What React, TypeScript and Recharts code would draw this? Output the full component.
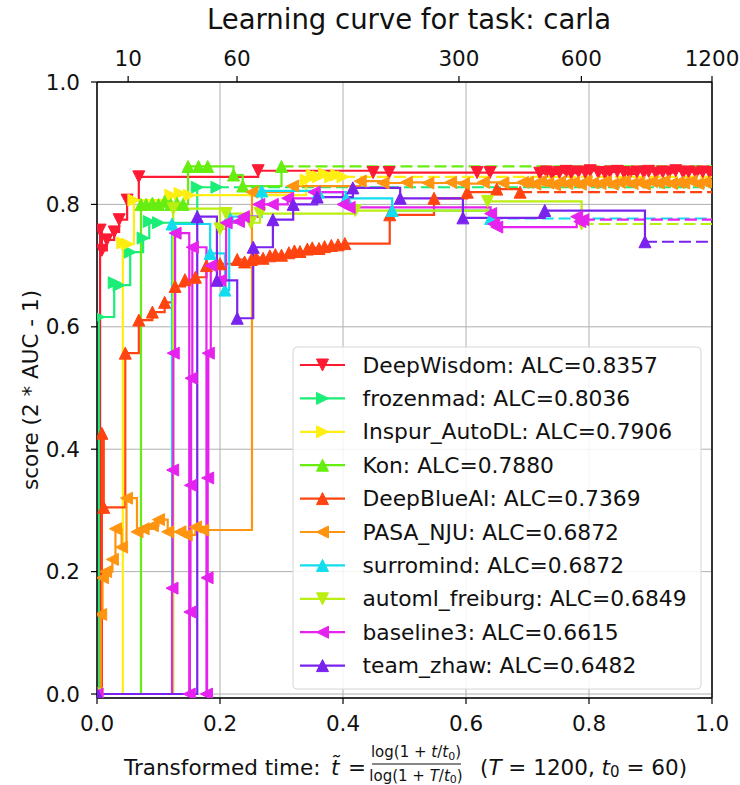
import React from 'react';
import { LineChart, Line, XAxis, YAxis, CartesianGrid, ReferenceLine, Customized } from 'recharts';

const FONT = '"DejaVu Sans", sans-serif';

// Time budget T and time constant t0 of the transformed-time axis
const T_TOTAL = 1200;
const T0 = 60;
const topTickSeconds = [10, 60, 300, 600, 1200];
const bottomTicks = [0, 0.2, 0.4, 0.6, 0.8, 1.0];
const scoreTicks = [0, 0.2, 0.4, 0.6, 0.8, 1.0];

const teamNames = [
  'DeepWisdom', 'frozenmad', 'Inspur_AutoDL', 'Kon', 'DeepBlueAI',
  'PASA_NJU', 'surromind', 'automl_freiburg', 'baseline3', 'team_zhaw',
];
const alcScores = [0.8357, 0.8036, 0.7906, 0.788, 0.7369, 0.6872, 0.6872, 0.6849, 0.6615, 0.6482];

// Learning curves: transformed time and score (2 * AUC - 1) of each submission
const deepWisdomT = [0, 0.005, 0.008, 0.016, 0.028, 0.036, 0.049, 0.068, 0.262, 0.449, 0.475, 0.618, 0.639,
  0.72, 0.731, 0.74, 0.752, 0.763, 0.771, 0.783, 0.794, 0.802, 0.815, 0.826, 0.834, 0.846, 0.857, 0.866,
  0.878, 0.889, 0.897, 0.909, 0.92, 0.93, 0.941, 0.953, 0.962, 0.974, 0.985, 0.996];
const deepWisdomScore = [0, 0.758, 0.725, 0.742, 0.755, 0.775, 0.807, 0.845, 0.855, 0.852, 0.852, 0.852, 0.852,
  0.851, 0.853, 0.85, 0.852, 0.854, 0.851, 0.853, 0.852, 0.855, 0.852, 0.851, 0.853, 0.854, 0.852, 0.85,
  0.853, 0.852, 0.854, 0.851, 0.853, 0.852, 0.855, 0.852, 0.853, 0.851, 0.853, 0.852];

const frozenmadT = [0, 0.003, 0.028, 0.036, 0.054, 0.075, 0.085, 0.1, 0.163, 0.195];
const frozenmadScore = [0, 0.616, 0.672, 0.668, 0.722, 0.745, 0.772, 0.77, 0.828, 0.828];

const inspurT = [0, 0.042, 0.05, 0.06, 0.12, 0.135, 0.15, 0.34, 0.35, 0.36, 0.37, 0.38, 0.39, 0.4];
const inspurScore = [0, 0.737, 0.735, 0.807, 0.815, 0.818, 0.815, 0.84, 0.848, 0.845, 0.85, 0.845, 0.848, 0.845];

const konT = [0, 0.0715, 0.08, 0.09, 0.1, 0.11, 0.12, 0.13, 0.14, 0.148, 0.165, 0.18, 0.222, 0.237, 0.3];
const konScore = [0, 0.8, 0.8, 0.802, 0.8, 0.805, 0.8, 0.802, 0.8, 0.862, 0.862, 0.862, 0.848, 0.83, 0.862];

const deepBlueT = [0, 0.008, 0.011, 0.046, 0.068, 0.09, 0.11, 0.127, 0.143, 0.16, 0.178, 0.2, 0.228, 0.24,
  0.251, 0.259, 0.27, 0.281, 0.29, 0.3, 0.312, 0.321, 0.33, 0.342, 0.35, 0.361, 0.37, 0.381, 0.392, 0.403,
  0.476, 0.548, 0.602, 0.65, 0.688];
const deepBlueScore = [0, 0.426, 0.305, 0.557, 0.611, 0.624, 0.64, 0.666, 0.677, 0.681, 0.7, 0.703, 0.71, 0.706,
  0.71, 0.713, 0.712, 0.716, 0.718, 0.717, 0.721, 0.724, 0.723, 0.727, 0.729, 0.728, 0.731, 0.733, 0.734, 0.736,
  0.783, 0.81, 0.82, 0.825, 0.82];

const pasaT = [0, 0.006, 0.009, 0.014, 0.025, 0.03, 0.04, 0.048, 0.065, 0.075, 0.09, 0.1, 0.115, 0.135, 0.145,
  0.16, 0.172, 0.252, 0.318, 0.428, 0.465, 0.503, 0.538, 0.575, 0.596, 0.628, 0.66, 0.692,
  0.7, 0.712, 0.721, 0.733, 0.744, 0.752, 0.764, 0.775, 0.786, 0.795, 0.806, 0.818, 0.827, 0.838, 0.849,
  0.858, 0.87, 0.881, 0.89, 0.902, 0.913, 0.922, 0.934, 0.945, 0.954, 0.966, 0.977, 0.988, 0.997];
const pasaScore = [0, 0.13, 0.19, 0.2, 0.22, 0.27, 0.24, 0.32, 0.265, 0.27, 0.275, 0.285, 0.265, 0.265, 0.26,
  0.273, 0.268, 0.82, 0.83, 0.838, 0.835, 0.836, 0.835, 0.836, 0.834, 0.836, 0.835, 0.836,
  0.836, 0.833, 0.838, 0.835, 0.832, 0.837, 0.834, 0.836, 0.833, 0.838, 0.835, 0.834, 0.837, 0.833, 0.836,
  0.838, 0.834, 0.836, 0.833, 0.837, 0.835, 0.838, 0.834, 0.836, 0.835, 0.838, 0.834, 0.836, 0.835];

const surromindT = [0, 0.122, 0.184, 0.208, 0.215, 0.268, 0.36, 0.405, 0.48, 0.64];
const surromindScore = [0, 0.768, 0.72, 0.66, 0.78, 0.822, 0.82, 0.81, 0.79, 0.777];

const freiburgT = [0, 0.124, 0.2, 0.21, 0.25, 0.265, 0.42, 0.635, 0.788];
const freiburgScore = [0, 0.793, 0.76, 0.785, 0.77, 0.785, 0.79, 0.805, 0.768];

const baseline3T = [0, 0.122, 0.123, 0.124, 0.127, 0.15, 0.151, 0.152, 0.153, 0.155, 0.178, 0.179, 0.18, 0.181,
  0.185, 0.2, 0.21, 0.23, 0.238, 0.263, 0.285, 0.31, 0.353, 0.4, 0.41, 0.64, 0.645, 0.65, 0.78, 0.785, 0.79];
const baseline3Score = [0, 0.173, 0.366, 0.557, 0.753, 0, 0.134, 0.341, 0.516, 0.73, 0, 0.19, 0.353, 0.557,
  0.7, 0.676, 0.77, 0.772, 0.78, 0.8, 0.8, 0.81, 0.82, 0.8, 0.795, 0.785, 0.768, 0.763, 0.78, 0.772, 0.775];

const zhawT = [0, 0.163, 0.195, 0.228, 0.254, 0.286, 0.319, 0.358, 0.416, 0.493, 0.595, 0.728, 0.891];
const zhawScore = [0, 0.78, 0.676, 0.614, 0.73, 0.775, 0.8, 0.812, 0.827, 0.81, 0.778, 0.79, 0.739];

const curveTimes = [deepWisdomT, frozenmadT, inspurT, konT, deepBlueT, pasaT, surromindT, freiburgT, baseline3T, zhawT];
const curveScores = [deepWisdomScore, frozenmadScore, inspurScore, konScore, deepBlueScore, pasaScore,
  surromindScore, freiburgScore, baseline3Score, zhawScore];

// Per-team drawing style
const teamColors = ['#ff1a33', '#1aee77', '#ffee11', '#66ee11', '#ff4411', '#ff9411', '#11ddee', '#bbee11', '#e622ee', '#7a22ee'];
const teamMarkers = ['v', '>', '>', '^', '^', '<', '^', 'v', '<', '^'];

const transformTime = (t: number) => Math.log(1 + t / T0) / Math.log(1 + T_TOTAL / T0);
const topTickPositions = topTickSeconds.map(transformTime);

type Pt = { x: number; y: number };
const curves: Pt[][] = curveTimes.map((ts, i) => ts.map((x, j) => ({ x, y: curveScores[i][j] })));
// Each curve is continued with a dashed line at its last score up to the end of the budget
const tails: Pt[][] = curves.map((c) => {
  const last = c[c.length - 1];
  return [last, { x: 1, y: last.y }];
});

const MR = 6;
function trianglePoints(kind: string, cx: number, cy: number, r: number) {
  switch (kind) {
    case 'v': return `${cx - r},${cy - r} ${cx + r},${cy - r} ${cx},${cy + r}`;
    case '^': return `${cx - r},${cy + r} ${cx + r},${cy + r} ${cx},${cy - r}`;
    case '>': return `${cx - r},${cy - r} ${cx - r},${cy + r} ${cx + r},${cy}`;
    default: return `${cx + r},${cy - r} ${cx + r},${cy + r} ${cx - r},${cy}`;
  }
}

const makeMarker = (kind: string, color: string) => (props: any) => {
  const { cx, cy, index } = props;
  if (cx == null || cy == null || Number.isNaN(cx) || Number.isNaN(cy)) return <g key={`m-${index}`} />;
  return <polygon key={`m-${index}`} points={trianglePoints(kind, cx, cy, MR)} fill={color} stroke={color} strokeWidth={1} />;
};

const Title = () => (
  <text x={409} y={19} textAnchor="middle" dominantBaseline="central" fontFamily={FONT} fontSize={27.5} fill="#111">
    Learning curve for task: carla
  </text>
);

const YLabel = () => (
  <text x={30} y={390} transform="rotate(-90 30 390)" textAnchor="middle" dominantBaseline="central"
    fontFamily={FONT} fontSize={21.5} fill="#111">
    score (2 * AUC - 1)
  </text>
);

const XLabel = () => (
  <g fontFamily={FONT} fill="#111">
    <text x={124} y={767} fontSize={21.5} dominantBaseline="central">Transformed time:</text>
    <text x={331} y={767} fontSize={21.5} fontStyle="italic" dominantBaseline="central">t̃</text>
    <text x={348} y={767} fontSize={21.5} dominantBaseline="central">=</text>
    <text x={416} y={752} fontSize={15} textAnchor="middle" dominantBaseline="central">
      log(1 + <tspan fontStyle="italic">t</tspan>/<tspan fontStyle="italic">t</tspan><tspan fontSize={11} dy={4}>0</tspan><tspan dy={-4}>)</tspan>
    </text>
    <line x1={372} x2={461} y1={764} y2={764} stroke="#111" strokeWidth={1} />
    <text x={416} y={776} fontSize={15} textAnchor="middle" dominantBaseline="central">
      log(1 + <tspan fontStyle="italic">T</tspan>/<tspan fontStyle="italic">t</tspan><tspan fontSize={11} dy={3}>0</tspan><tspan dy={-3}>)</tspan>
    </text>
    <text x={480} y={767} fontSize={21.5} dominantBaseline="central">
      (<tspan fontStyle="italic">T</tspan> = 1200,  <tspan fontStyle="italic">t</tspan><tspan fontSize={15} dy={5}>0</tspan><tspan dy={-5}> = 60)</tspan>
    </text>
  </g>
);

const LegendBox = () => (
  <g fontFamily={FONT}>
    <rect x={293} y={347} width={408} height={342} rx={4} fill="#fff" fillOpacity={0.85} stroke="#d6d6d6" strokeWidth={1} />
    {teamNames.map((name, i) => {
      const cy = 365 + i * 33.4;
      return (
        <g key={name}>
          <line x1={300} x2={345} y1={cy} y2={cy} stroke={teamColors[i]} strokeWidth={2.2} />
          <polygon points={trianglePoints(teamMarkers[i], 322.5, cy, MR)} fill={teamColors[i]} stroke={teamColors[i]} />
          <text x={362.5} y={cy} fontSize={21.8} dominantBaseline="central" fill="#111">
            {`${name}: ALC=${alcScores[i].toFixed(4)}`}
          </text>
        </g>
      );
    })}
  </g>
);

const tickStyle = { fontFamily: FONT, fontSize: 21.5, fill: '#111' };

export default function App() {
  return (
    <div style={{ position: 'absolute', left: 0, top: 0 }}>
      <LineChart width={740} height={785} margin={{ top: 52, right: 28, bottom: 47, left: 37 }}>
        <CartesianGrid xAxisId="bottom" yAxisId="left" stroke="#b0b0b0" strokeWidth={1} />
        <XAxis xAxisId="bottom" type="number" dataKey="x" domain={[0, 1]} ticks={bottomTicks}
          tickFormatter={(v: number) => v.toFixed(1)} allowDataOverflow height={40}
          tick={tickStyle} tickSize={6} tickMargin={12} axisLine={{ stroke: '#000', strokeWidth: 1.5 }}
          tickLine={{ stroke: '#000', strokeWidth: 1.2 }} interval={0} />
        <XAxis xAxisId="top" orientation="top" type="number" dataKey="x" domain={[0, 1]} ticks={topTickPositions}
          tickFormatter={(v: number) => {
            const k = topTickPositions.findIndex((p) => Math.abs(p - v) < 1e-9);
            return k >= 0 ? String(topTickSeconds[k]) : '';
          }}
          allowDataOverflow height={30} tick={tickStyle} tickSize={6} tickMargin={10}
          axisLine={{ stroke: '#000', strokeWidth: 1.5 }} tickLine={{ stroke: '#000', strokeWidth: 1.2 }} interval={0} />
        <YAxis yAxisId="left" type="number" domain={[-0.0065, 1]} ticks={scoreTicks} allowDataOverflow width={60}
          tickFormatter={(v: number) => v.toFixed(1)} tick={tickStyle} tickSize={6} tickMargin={11}
          axisLine={{ stroke: '#000', strokeWidth: 1.5 }} tickLine={{ stroke: '#000', strokeWidth: 1.2 }} interval={0} />
        <ReferenceLine xAxisId="bottom" yAxisId="left" x={1} stroke="#000" strokeWidth={1.5} ifOverflow="visible" />
        {curves.map((pts, i) => [
          <Line key={`c-${i}`} xAxisId="bottom" yAxisId="left" data={pts} dataKey="y" type="stepAfter"
            stroke={teamColors[i]} strokeWidth={2.2} dot={makeMarker(teamMarkers[i], teamColors[i])}
            activeDot={false} isAnimationActive={false} />,
          <Line key={`t-${i}`} xAxisId="bottom" yAxisId="left" data={tails[i]} dataKey="y" type="linear"
            stroke={teamColors[i]} strokeWidth={2.2} strokeDasharray="12 5" dot={false}
            activeDot={false} isAnimationActive={false} />,
        ])}
        <Customized component={Title} />
        <Customized component={YLabel} />
        <Customized component={XLabel} />
        <Customized component={LegendBox} />
      </LineChart>
    </div>
  );
}
